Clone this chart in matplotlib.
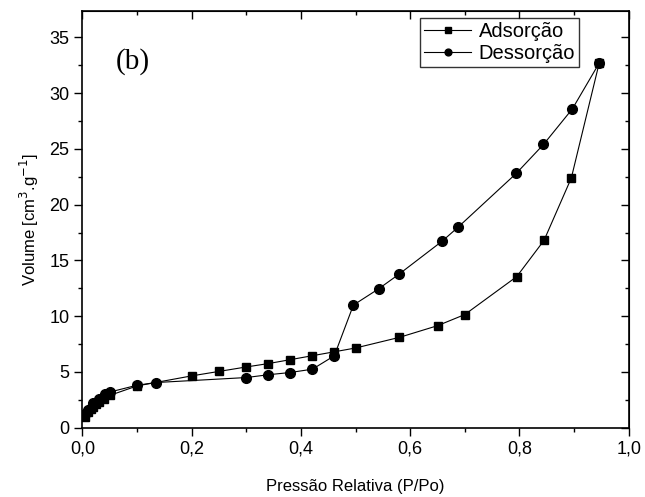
import matplotlib
matplotlib.use("Agg")
import matplotlib.pyplot as plt
from matplotlib.ticker import MultipleLocator, FuncFormatter

ads_x = [0.005, 0.01, 0.015, 0.02, 0.025, 0.03, 0.04, 0.05, 0.10, 0.20, 0.25, 0.30, 0.34,
         0.38, 0.42, 0.46, 0.50, 0.58, 0.65, 0.70, 0.795, 0.845, 0.895, 0.946]
ads_y = [1.0, 1.4, 1.7, 1.9, 2.1, 2.3, 2.6, 2.9, 3.75, 4.65, 5.05, 5.45, 5.75,
         6.1, 6.45, 6.8, 7.15, 8.1, 9.15, 10.15, 13.55, 16.8, 22.4, 32.7]

des_x = [0.946, 0.897, 0.844, 0.794, 0.688, 0.659, 0.579, 0.542, 0.496, 0.461, 0.421,
         0.380, 0.340, 0.300, 0.134, 0.099, 0.050, 0.041, 0.03, 0.02, 0.01, 0.005]
des_y = [32.7, 28.6, 25.4, 22.8, 18.0, 16.75, 13.75, 12.45, 11.0, 6.45, 5.25,
         4.95, 4.75, 4.5, 4.05, 3.8, 3.2, 3.05, 2.6, 2.2, 1.6, 1.2]

plt.rcParams['font.family'] = ['Liberation Sans', 'DejaVu Sans']

fig = plt.figure(figsize=(6.45, 4.97), dpi=100)
ax = fig.add_axes([0.1279, 0.1394, 0.8468, 0.8391])

ax.plot(ads_x, ads_y, '-s', color='black', lw=0.8, ms=6, label='Adsorção')
ax.plot(des_x, des_y, '-o', color='black', lw=0.8, ms=7, label='Dessorção')

ax.set_xlim(0, 1.0)
ax.set_ylim(0, 37.4)
ax.xaxis.set_major_locator(MultipleLocator(0.2))
ax.xaxis.set_minor_locator(MultipleLocator(0.1))
ax.yaxis.set_major_locator(MultipleLocator(5))
ax.yaxis.set_minor_locator(MultipleLocator(2.5))
ax.xaxis.set_major_formatter(FuncFormatter(lambda v, p: f"{v:.1f}".replace('.', ',')))

ax.tick_params(which='both', direction='out', labelsize=13, width=1.0, top=False, right=False)
ax.tick_params(which='major', length=6)
ax.tick_params(which='minor', length=3)
for s in ax.spines.values():
    s.set_linewidth(1.2)

axt = ax.secondary_xaxis('top')
axt.xaxis.set_major_locator(MultipleLocator(0.2))
axt.xaxis.set_minor_locator(MultipleLocator(0.1))
axt.tick_params(which='both', direction='in', labeltop=False, width=1.0)
axt.tick_params(which='major', length=6)
axt.tick_params(which='minor', length=3)
axr = ax.secondary_yaxis('right')
axr.yaxis.set_major_locator(MultipleLocator(5))
axr.yaxis.set_minor_locator(MultipleLocator(2.5))
axr.tick_params(which='both', direction='in', labelright=False, width=1.0)
axr.tick_params(which='major', length=6)
axr.tick_params(which='minor', length=3)

ax.set_xlabel('Pressão Relativa (P/Po)', fontsize=12, labelpad=15)
ax.set_ylabel(r'Volume [cm$^{3}$.g$^{-1}$]', fontsize=12, labelpad=6)

ax.text(0.092, 32.8, '(b)', fontsize=21, family=['Liberation Serif', 'DejaVu Serif'],
        ha='center', va='center')

leg = ax.legend(loc='upper right', bbox_to_anchor=(0.917, 0.992), fontsize=14.5,
                frameon=True, fancybox=False, edgecolor='black', markerscale=0.7,
                handlelength=2.3, borderpad=0.2, labelspacing=0.15, handletextpad=0.4,
                borderaxespad=0.2)
leg.get_frame().set_linewidth(1.0)

fig.savefig('out.png', dpi=100)
